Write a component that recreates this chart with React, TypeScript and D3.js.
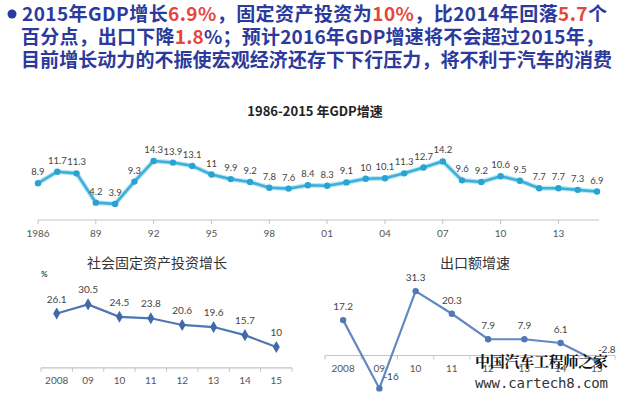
import React from 'react';
import * as d3 from 'd3';

const W = 620;
const H = 397;

// top chart: GDP growth 1986-2015
const gdpYears = d3.range(1986, 2016);
const gdpValues = [8.9, 11.7, 11.3, 4.2, 3.9, 9.3, 14.3, 13.9, 13.1, 11, 9.9, 9.2, 7.8, 7.6, 8.4,
  8.3, 9.1, 10, 10.1, 11.3, 12.7, 14.2, 9.6, 9.2, 10.6, 9.5, 7.7, 7.7, 7.3, 6.9];
const gdpTickYears = [1986, 1989, 1992, 1995, 1998, 2001, 2004, 2007, 2010, 2013];

// bottom charts
const bottomCats = ['2008', '09', '10', '11', '12', '13', '14', '15'];
const investValues = [26.1, 30.5, 24.5, 23.8, 20.6, 19.6, 15.7, 10];
const exportValues = [17.2, -16, 31.3, 20.3, 7.9, 7.9, 6.1, -2.8];

const headerLines: { t: string; red?: boolean }[][] = [
  [{ t: '2015年GDP增长' }, { t: '6.9%', red: true }, { t: '，固定资产投资为' }, { t: '10%', red: true },
    { t: '，比2014年回落' }, { t: '5.7', red: true }, { t: '个' }],
  [{ t: '百分点，出口下降' }, { t: '1.8', red: true }, { t: '%；预计2016年GDP增速将不会超过2015年，' }],
  [{ t: '目前增长动力的不振使宏观经济还存下下行压力，将不利于汽车的消费' }],
];
const headerWidths = [585, 583, 591];

const cjk = '"Noto Sans CJK SC", "Noto Sans", sans-serif';
const labelFont = 'Lato, "Noto Sans", sans-serif';

function TopChart() {
  const x = d3.scaleLinear().domain([1986, 2015]).range([38, 597]);
  const y = d3.scaleLinear().domain([0, 16]).range([220, 220 - 16 * 4.13]);
  const line = d3.line<number>().x((_, i) => x(gdpYears[i])).y(d => y(d));
  return (
    <g>
      <text x={315} y={116} textAnchor="middle" fontFamily={cjk} fontWeight="bold" fontSize={13} fill="#222">
        1986-2015 年GDP增速
      </text>
      <line x1={x(1986)} x2={599} y1={y(0)} y2={y(0)} stroke="#c4c4c4" strokeWidth={1.2} />
      {gdpTickYears.map(yr => (
        <g key={yr}>
          <line x1={x(yr)} x2={x(yr)} y1={y(0)} y2={y(0) + 4} stroke="#c4c4c4" />
          <text x={x(yr)} y={y(0) + 17} textAnchor="middle" fontFamily={labelFont} fontSize={10} fill="#555">
            {yr === 1986 ? '1986' : String(yr).slice(2)}
          </text>
        </g>
      ))}
      <path d={line(gdpValues) || ''} fill="none" stroke="#bfe6f4" strokeWidth={5} strokeLinejoin="round" />
      <path d={line(gdpValues) || ''} fill="none" stroke="#3ab0da" strokeWidth={2.6} strokeLinejoin="round" />
      {gdpValues.map((v, i) => (
        <g key={i}>
          <circle cx={x(gdpYears[i])} cy={y(v)} r={3.2} fill="#2aa2d2" />
          <text x={x(gdpYears[i])} y={y(v) - 8} textAnchor="middle" fontFamily={labelFont} fontSize={9.5} fill="#444">
            {v}
          </text>
        </g>
      ))}
    </g>
  );
}

function InvestChart() {
  const x = d3.scaleBand().domain(bottomCats).range([41, 292]);
  const y = d3.scaleLinear().domain([0, 35]).range([367.8, 367.8 - 35 * 2.08]);
  const cx = (c: string) => (x(c) || 0) + x.bandwidth() / 2;
  const line = d3.line<number>().x((_, i) => cx(bottomCats[i])).y(d => y(d));
  const diamond = d3.symbol(d3.symbolDiamond, 42)() || '';
  return (
    <g>
      <text x={157} y={268} textAnchor="middle" fontFamily={cjk} fontSize={14} fill="#333">社会固定资产投资增长</text>
      <text x={41} y={277} fontFamily={labelFont} fontSize={8} fontWeight="bold" fill="#444">%</text>
      <line x1={41} x2={292} y1={y(0)} y2={y(0)} stroke="#c4c4c4" strokeWidth={1.2} />
      {bottomCats.concat(['end']).map((c, i) => {
        const xx = 41 + i * x.step();
        return <line key={c} x1={xx} x2={xx} y1={y(0)} y2={y(0) + 4} stroke="#c4c4c4" />;
      })}
      {bottomCats.map(c => (
        <text key={c} x={cx(c)} y={y(0) + 16} textAnchor="middle" fontFamily={labelFont} fontSize={10} fill="#555">{c}</text>
      ))}
      <path d={line(investValues) || ''} fill="none" stroke="#4d76b3" strokeWidth={2.2} />
      {investValues.map((v, i) => (
        <g key={i}>
          <path d={diamond} transform={`translate(${cx(bottomCats[i])},${y(v)})`} fill="#3f69a8" />
          <text x={cx(bottomCats[i])} y={y(v) - 11} textAnchor="middle" fontFamily={labelFont} fontSize={10} fill="#444">{v}</text>
        </g>
      ))}
    </g>
  );
}

function ExportChart() {
  const x = d3.scaleBand().domain(bottomCats).range([325, 615]);
  const y = d3.scaleLinear().domain([-20, 35]).range([355.5 + 20 * 2.057, 355.5 - 35 * 2.057]);
  const cx = (c: string) => (x(c) || 0) + x.bandwidth() / 2;
  const line = d3.line<number>().x((_, i) => cx(bottomCats[i])).y(d => y(d));
  return (
    <g>
      <text x={475} y={268} textAnchor="middle" fontFamily={cjk} fontSize={14} fill="#333">出口额增速</text>
      <line x1={325} x2={615} y1={y(0)} y2={y(0)} stroke="#c4c4c4" strokeWidth={1.2} />
      {bottomCats.concat(['end']).map((c, i) => {
        const xx = 325 + i * x.step();
        return <line key={c} x1={xx} x2={xx} y1={y(0)} y2={y(0) + 4} stroke="#c4c4c4" />;
      })}
      {bottomCats.map(c => (
        <text key={c} x={cx(c)} y={y(0) + 16} textAnchor="middle" fontFamily={labelFont} fontSize={10} fill="#555">{c}</text>
      ))}
      <path d={line(exportValues) || ''} fill="none" stroke="#6288c0" strokeWidth={2.2} />
      {exportValues.map((v, i) => {
        const px = cx(bottomCats[i]);
        const py = y(v);
        let lx = px, ly = py - 10, anchor: 'middle' | 'start' = 'middle';
        if (v === -16) { lx = px + 4; ly = py - 8; anchor = 'start'; }
        if (v === -2.8) { lx = px + 1; ly = py - 8; anchor = 'start'; }
        return (
          <g key={i}>
            <circle cx={px} cy={py} r={3.2} fill="#4f78b5" />
            <text x={lx} y={ly} textAnchor={anchor} fontFamily={labelFont} fontSize={10} fill="#444">{v}</text>
          </g>
        );
      })}
      {/* watermark */}
      <text x={475} y={367} fontFamily='"Noto Serif CJK SC", "Noto Sans CJK SC", serif' fontWeight="bold" fontSize={15} fill="#111" textLength={133}>
        中国汽车工程师之家
      </text>
      <text x={475} y={388} fontFamily='"DejaVu Sans Mono", "Liberation Mono", monospace' fontSize={14} fill="#333" textLength={133}>
        www.cartech8.com
      </text>
    </g>
  );
}

export default function App() {
  return (
    <svg width={W} height={H} style={{ position: 'fixed', left: 0, top: 0, background: '#fff' }}>
      <rect width={W} height={H} fill="#fff" />
      <circle cx={12} cy={14} r={4.5} fill="#2b3a9c" />
      {headerLines.map((segs, li) => (
        <text key={li} x={li === 0 ? 22 : 21} y={21 + li * 23} fontFamily={cjk} fontWeight="bold" fontSize={19}
          fill="#2b3a9c" textLength={headerWidths[li]} lengthAdjust="spacing">
          {segs.map((s, i) => (
            <tspan key={i} fill={s.red ? '#e5463c' : '#2b3a9c'}>{s.t}</tspan>
          ))}
        </text>
      ))}
      <TopChart />
      <InvestChart />
      <ExportChart />
    </svg>
  );
}
